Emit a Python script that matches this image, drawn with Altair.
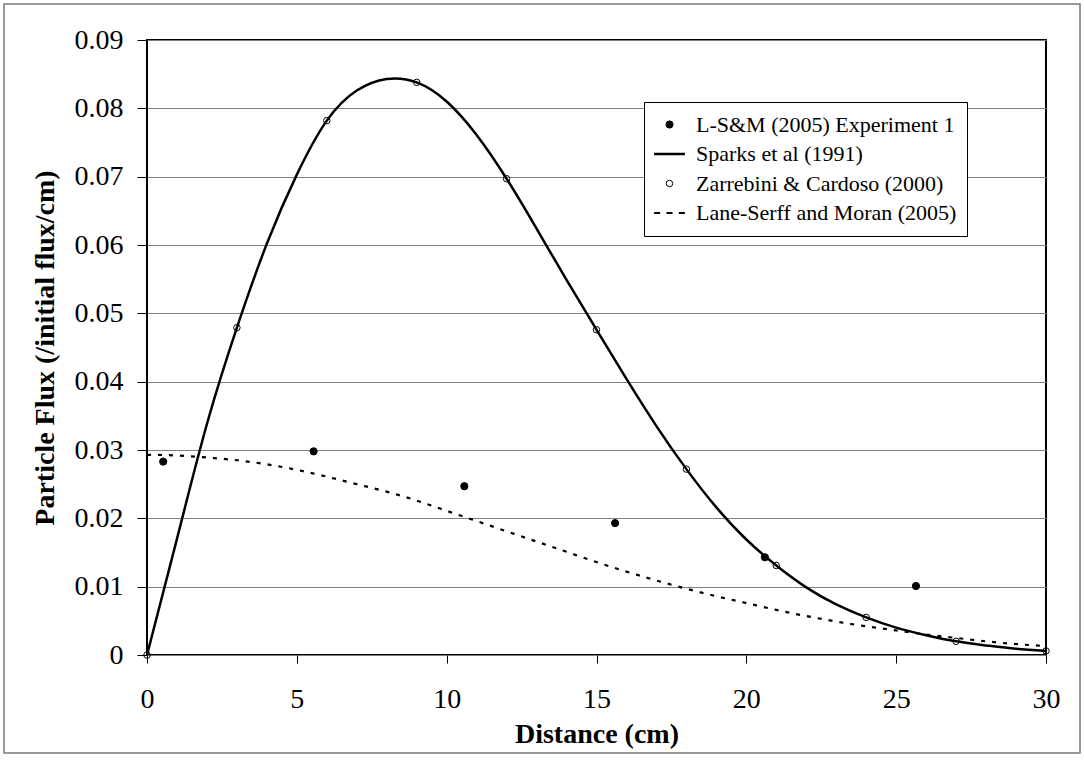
import altair as alt
import pandas as pd

# L-S&M (2005) Experiment 1 measurements
exp_x = [0.54, 5.56, 10.59, 15.62, 20.62, 25.66]
exp_y = [0.0283, 0.0298, 0.0247, 0.0193, 0.0143, 0.0101]

# Zarrebini & Cardoso (2000)
zc_x = [0, 3, 6, 9, 12, 15, 18, 21, 24, 27, 30]
zc_y = [0.0, 0.0479, 0.0782, 0.0838, 0.0697, 0.0476, 0.0272, 0.0131, 0.0055, 0.0020, 0.0006]

# Sparks et al (1991) model curve
sp_x = list(range(0, 31))
sp_y = [0.0, 0.0170, 0.0338, 0.0479, 0.0602, 0.0703, 0.0782, 0.0826, 0.0843, 0.0838,
        0.0810, 0.0761, 0.0697, 0.0624, 0.0549, 0.0476, 0.0404, 0.0335, 0.0272, 0.0216,
        0.0169, 0.0131, 0.0099, 0.0074, 0.0055, 0.0040, 0.0029, 0.0020, 0.0014, 0.0009,
        0.0006]

# Lane-Serff and Moran (2005) model curve
lm_x = list(range(0, 31))
lm_y = [0.0293, 0.0292, 0.0289, 0.0285, 0.0279, 0.0271, 0.0261, 0.0250, 0.0239, 0.0226,
        0.0211, 0.0196, 0.0181, 0.0166, 0.0151, 0.0136, 0.0122, 0.0109, 0.0097, 0.0086,
        0.0076, 0.0066, 0.0057, 0.0049, 0.0042, 0.0036, 0.0030, 0.0025, 0.0020, 0.0016,
        0.0013]

series = ["L-S&M (2005) Experiment 1", "Sparks et al (1991)",
          "Zarrebini & Cardoso (2000)", "Lane-Serff and Moran (2005)"]

x_ticks = [0, 5, 10, 15, 20, 25, 30]
y_ticks = [0, 0.01, 0.02, 0.03, 0.04, 0.05, 0.06, 0.07, 0.08, 0.09]

FONT = "Liberation Serif"

points = pd.concat([
    pd.DataFrame({"x": exp_x, "y": exp_y, "series": series[0]}),
    pd.DataFrame({"x": zc_x, "y": zc_y, "series": series[2]}),
])
sparks = pd.DataFrame({"x": sp_x, "y": sp_y})
lane = pd.DataFrame({"x": lm_x, "y": lm_y})

xs = alt.Scale(domain=[0, 30], nice=False, zero=False)
ys = alt.Scale(domain=[0, 0.09], nice=False)

x_axis = alt.Axis(values=x_ticks, title="Distance (cm)", grid=False, domain=False,
                  tickSize=8, tickColor="black", tickWidth=1,
                  labelFont=FONT, labelFontSize=28, labelColor="black", labelPadding=22,
                  labelFlush=False,
                  titleFont=FONT, titleFontSize=28, titleFontWeight="bold", titleColor="black",
                  titleBaseline="alphabetic", titleY=87)
y_axis = alt.Axis(values=y_ticks, title="Particle Flux (/initial flux/cm)",
                  grid=True, gridColor="#808080", gridWidth=1, domain=False,
                  tickSize=10, tickColor="black", tickWidth=1,
                  labelFont=FONT, labelFontSize=28, labelColor="black", labelPadding=14,
                  labelExpr="datum.value == 0 ? '0' : format(datum.value, '.2f')",
                  labelFlush=False,
                  titleFont=FONT, titleFontSize=28, titleFontWeight="bold", titleColor="black",
                  titleBaseline="alphabetic", titleAlign="center", titleX=-94, titleY=307.5)

# one merged legend driven by the symbol channels
fills = ["black", "transparent", "transparent", "transparent"]
shapes = ["circle", "M-1.4,0H1.4", "circle", "M-1.4,0H-0.85M-0.275,0H0.275M0.85,0H1.4"]
sizes = [52, 484, 42, 484]
widths = [1, 2.5, 1, 2]

leg = alt.Legend(title=None, orient="none", legendX=497, legendY=62,
                 fillColor="white", strokeColor="black", padding=10,
                 labelFont=FONT, labelFontSize=22, labelColor="black", labelLimit=500,
                 labelOffset=14, symbolOffset=3, rowPadding=4.5, clipHeight=25,
                 symbolStrokeColor="black", symbolFillColor="white")

frame = alt.Chart(pd.DataFrame({"f": [0]})).mark_rect(
    fillOpacity=0, stroke="#7a7a7a", strokeWidth=1.5
).encode(x=alt.value(-143), x2=alt.value(933), y=alt.value(-36), y2=alt.value(713))

sparks_line = alt.Chart(sparks).mark_line(
    color="black", strokeWidth=2.5, interpolate="natural"
).encode(x=alt.X("x:Q", scale=xs, axis=x_axis), y=alt.Y("y:Q", scale=ys, axis=y_axis))

lane_line = alt.Chart(lane).mark_line(
    color="black", strokeWidth=2.2, strokeDash=[4, 7], interpolate="natural"
).encode(x=alt.X("x:Q", scale=xs), y=alt.Y("y:Q", scale=ys))

pts = alt.Chart(points).mark_point(filled=True, opacity=1, stroke="black").encode(
    x=alt.X("x:Q", scale=xs),
    y=alt.Y("y:Q", scale=ys),
    fill=alt.Fill("series:N", scale=alt.Scale(domain=series, range=fills), legend=leg),
    shape=alt.Shape("series:N", scale=alt.Scale(domain=series, range=shapes), legend=leg),
    size=alt.Size("series:N", scale=alt.Scale(type="ordinal", domain=series, range=sizes),
                  legend=leg),
    strokeWidth=alt.StrokeWidth("series:N",
                                scale=alt.Scale(type="ordinal", domain=series, range=widths),
                                legend=leg),
)

chart = alt.layer(frame, sparks_line, lane_line, pts).properties(
    width=899, height=615,
    autosize=alt.AutoSizeParams(type="none"),
    padding={"left": 147, "top": 40, "right": 38, "bottom": 105},
    background="white",
).configure_view(stroke="black", strokeWidth=2)

chart.save("out.html", embed_options={"renderer": "svg", "actions": False})
